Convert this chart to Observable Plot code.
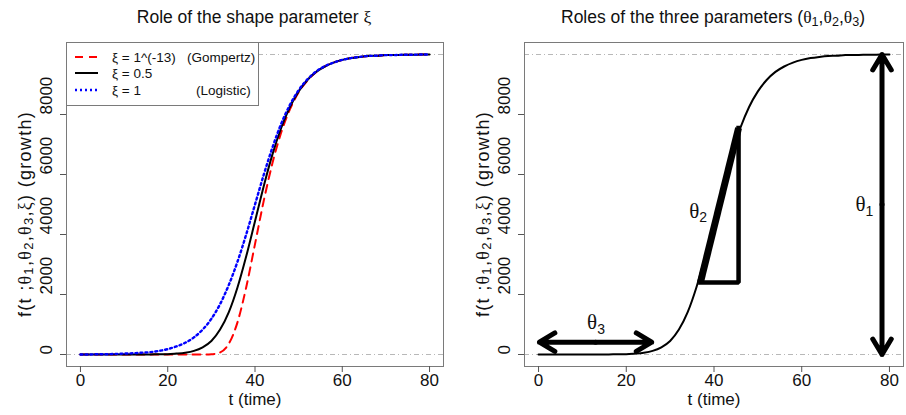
<!DOCTYPE html>
<html><head><meta charset="utf-8">
<script src="https://cdn.jsdelivr.net/npm/d3@7"></script>
<script src="https://cdn.jsdelivr.net/npm/@observablehq/plot@0.6"></script>
<style>
body{margin:0;background:#fff;font-family:"Liberation Sans",Arial,sans-serif;color:#111}
#wrap{position:relative;width:906px;height:415px;overflow:hidden;background:#fff}
.panel{position:absolute;top:0}
.title{position:absolute;top:17px;transform:translate(-50%,-50%);font-size:17.5px;white-space:nowrap}
.ylab{position:absolute;top:214px;transform:translate(-50%,-50%) rotate(-90deg);font-size:18px;letter-spacing:1.3px;white-space:nowrap}
.sym{font-family:"Liberation Serif","DejaVu Serif",serif}
sub{font-size:0.72em;vertical-align:-0.3em;line-height:0}
.ylab sub{vertical-align:-0.2em}
#legend{position:absolute;left:66px;top:42px}
</style></head>
<body>
<div id="wrap">
  <div class="panel" id="p1" style="left:0px"></div>
  <div class="panel" id="p2" style="left:458px"></div>
  <div class="title" style="left:254px">Role of the shape parameter <span class="sym">ξ</span></div>
  <div class="title" style="left:713px">Roles of the three parameters (<span class="sym">θ</span><sub>1</sub>,<span class="sym">θ</span><sub>2</sub>,<span class="sym">θ</span><sub>3</sub>)</div>
  <div class="ylab" style="left:25px">f(t ;<span class="sym">θ</span><sub>1</sub>,<span class="sym">θ</span><sub>2</sub>,<span class="sym">θ</span><sub>3</sub>,<span class="sym">ξ</span>) (growth)</div>
  <div class="ylab" style="left:483px">f(t ;<span class="sym">θ</span><sub>1</sub>,<span class="sym">θ</span><sub>2</sub>,<span class="sym">θ</span><sub>3</sub>,<span class="sym">ξ</span>) (growth)</div>
  <svg id="legend" width="193" height="64"></svg>
</div>
<script>
// ---- data ----
const time = [0,2,4,6,8,10,12,14,16,18,20,22,24,26,28,30,32,34,36,38,40,42,44,46,48,50,52,54,56,58,60,62,64,66,68,70,72,74,76,78,80];
const gompertz = [0,0,0,0,0,0,0,0,0,0,0,0,0,0,0,10,70,360,1080,2250,3680,5120,6380,7400,8170,8740,9130,9410,9600,9730,9820,9880,9920,9950,9960,9980,9980,9990,9990,10000,10000];
const xiHalf = [0,0,0,0,0,0,0,0,0,10,10,30,60,120,240,450,830,1410,2240,3280,4440,5610,6670,7550,8250,8770,9150,9420,9600,9730,9820,9880,9920,9950,9960,9980,9980,9990,9990,10000,10000];
const logistic = [0,0,10,10,20,30,40,60,80,120,180,270,390,570,830,1190,1680,2320,3100,4010,5000,5990,6900,7690,8320,8810,9170,9430,9610,9730,9820,9880,9920,9950,9960,9980,9980,9990,9990,10000,10000];
const xTicks = [0,20,40,60,80];
const yTicks = [0,2000,4000,6000,8000];
const refLevels = [0,10000];
const legendLabels = ["ξ = 1^(-13)", "ξ = 0.5", "ξ = 1"];
const legendNotes = ["(Gompertz)", "", "(Logistic)"];
// annotations (data units) for the right panel
const lagArrowT = [0.2, 25.8];
const lagArrowV = 410;
const slopeT = [36.9, 45.6];
const slopeV = [2400, 7550];
const asymT = 78.3;
const asymV = [0, 10000];
const thetaNames = ["θ3", "θ2", "θ1"];
const thetaT = [13.1, 36.4, 74.3];
const thetaV = [1060, 4790, 5000];

// ---- styles ----
const seriesStyle = [
  {vals: gompertz, stroke: "#ff0000", dash: "8,6", w: 2},
  {vals: xiHalf, stroke: "#000000", dash: null, w: 2},
  {vals: logistic, stroke: "#0000ff", dash: "2,3", w: 2.4}
];
const fontCss = "font-family:'Liberation Sans',Arial,sans-serif;font-size:17px;color:#111;background:transparent;overflow:visible;";
const xDomain = [-3.2, 83.2];
const yDomain = [-400, 10400];

function commonMarks() {
  return [
    Plot.axisX({ticks: xTicks, tickSize: 6, tickPadding: 1, label: null, stroke: "#555"}),
    Plot.axisY({ticks: yTicks, tickSize: 6, tickFormat: () => "", label: null, stroke: "#555"}),
    Plot.text(yTicks, {y: d => d, frameAnchor: "left", dx: -20, rotate: -90, text: d => String(d)}),
    Plot.text(["t (time)"], {frameAnchor: "bottom", dy: 38, text: d => d})
  ];
}
const refRule = Plot.ruleY(refLevels, {stroke: "#b8b8b8", strokeWidth: 1, strokeDasharray: "5,3,1,3"});

// ---- left panel ----
const left = Plot.plot({
  width: 453, height: 415,
  marginLeft: 66, marginRight: 10, marginTop: 42, marginBottom: 49,
  x: {domain: xDomain},
  y: {domain: yDomain},
  style: fontCss,
  marks: [
    refRule,
    ...seriesStyle.map(s => Plot.line(time.map((t, i) => ({t, v: s.vals[i]})), {
      x: "t", y: "v", stroke: s.stroke, strokeWidth: s.w, strokeDasharray: s.dash, curve: "monotone-x"
    })),
    Plot.frame({stroke: "#7a7a7a"}),
    ...commonMarks()
  ]
});
document.getElementById("p1").appendChild(left);

// ---- right panel ----
const lagMid = (lagArrowT[0] + lagArrowT[1]) / 2;
const asymMid = (asymV[0] + asymV[1]) / 2;
const right = Plot.plot({
  width: 448, height: 415,
  marginLeft: 66, marginRight: 3, marginTop: 42, marginBottom: 49,
  x: {domain: xDomain},
  y: {domain: yDomain},
  style: fontCss,
  marks: [
    refRule,
    Plot.line(time.map((t, i) => ({t, v: xiHalf[i]})), {x: "t", y: "v", stroke: "#000", strokeWidth: 2, curve: "monotone-x"}),
    // slope triangle
    Plot.line([{t: slopeT[0], v: slopeV[0]}, {t: slopeT[1], v: slopeV[0]}, {t: slopeT[1], v: slopeV[1]}],
      {x: "t", y: "v", stroke: "#000", strokeWidth: 4.5, strokeLinejoin: "miter", strokeLinecap: "square"}),
    Plot.link([{x1: slopeT[0], y1: slopeV[0], x2: slopeT[1], y2: slopeV[1]}],
      {x1: "x1", y1: "y1", x2: "x2", y2: "y2", stroke: "#000", strokeWidth: 7}),
    // lag double arrow
    Plot.arrow([{a: lagMid, b: lagArrowT[0]}, {a: lagMid, b: lagArrowT[1]}],
      {x1: "a", x2: "b", y1: () => lagArrowV, y2: () => lagArrowV, stroke: "#000", strokeWidth: 5, headLength: 5.4, headAngle: 62}),
    // asymptote double arrow
    Plot.arrow([{a: asymMid, b: asymV[0]}, {a: asymMid, b: asymV[1]}],
      {y1: "a", y2: "b", x1: () => asymT, x2: () => asymT, stroke: "#000", strokeWidth: 5, headLength: 5.4, headAngle: 62}),
    Plot.text(thetaNames.map((n, i) => ({n, t: thetaT[i], v: thetaV[i]})),
      {x: "t", y: "v", text: "n", fontSize: 21}),
    Plot.frame({stroke: "#7a7a7a"}),
    ...commonMarks()
  ]
});
document.getElementById("p2").appendChild(right);

// subscript styling for theta labels
d3.select(right).selectAll("text").each(function () {
  const s = this.textContent;
  if (/^θ\d$/.test(s)) {
    const el = d3.select(this);
    el.text("");
    el.append("tspan").attr("font-family", "'Liberation Serif','DejaVu Serif',serif").text("θ");
    el.append("tspan").attr("font-size", "14px").attr("dy", "0.35em").text(s.slice(1));
  }
});

// ---- legend (left panel) ----
const lg = d3.select("#legend");
lg.append("rect").attr("x", 0.5).attr("y", 0.5).attr("width", 192).attr("height", 63)
  .attr("fill", "#fff").attr("stroke", "#7a7a7a");
const rowY = [15, 31, 48];
legendLabels.forEach((lab, i) => {
  const s = seriesStyle[i];
  lg.append("line").attr("x1", 9).attr("x2", 32).attr("y1", rowY[i]).attr("y2", rowY[i])
    .attr("stroke", s.stroke).attr("stroke-width", s.w).attr("stroke-dasharray", s.dash);
  lg.append("text").attr("x", 46).attr("y", rowY[i]).attr("dy", "0.35em")
    .attr("font-size", 13.5).attr("fill", "#111").text(lab);
  if (legendNotes[i]) {
    lg.append("text").attr("x", i === 0 ? 121 : 130).attr("y", rowY[i]).attr("dy", "0.35em")
      .attr("font-size", 13.5).attr("fill", "#111").text(legendNotes[i]);
  }
});
</script>
</body></html>
